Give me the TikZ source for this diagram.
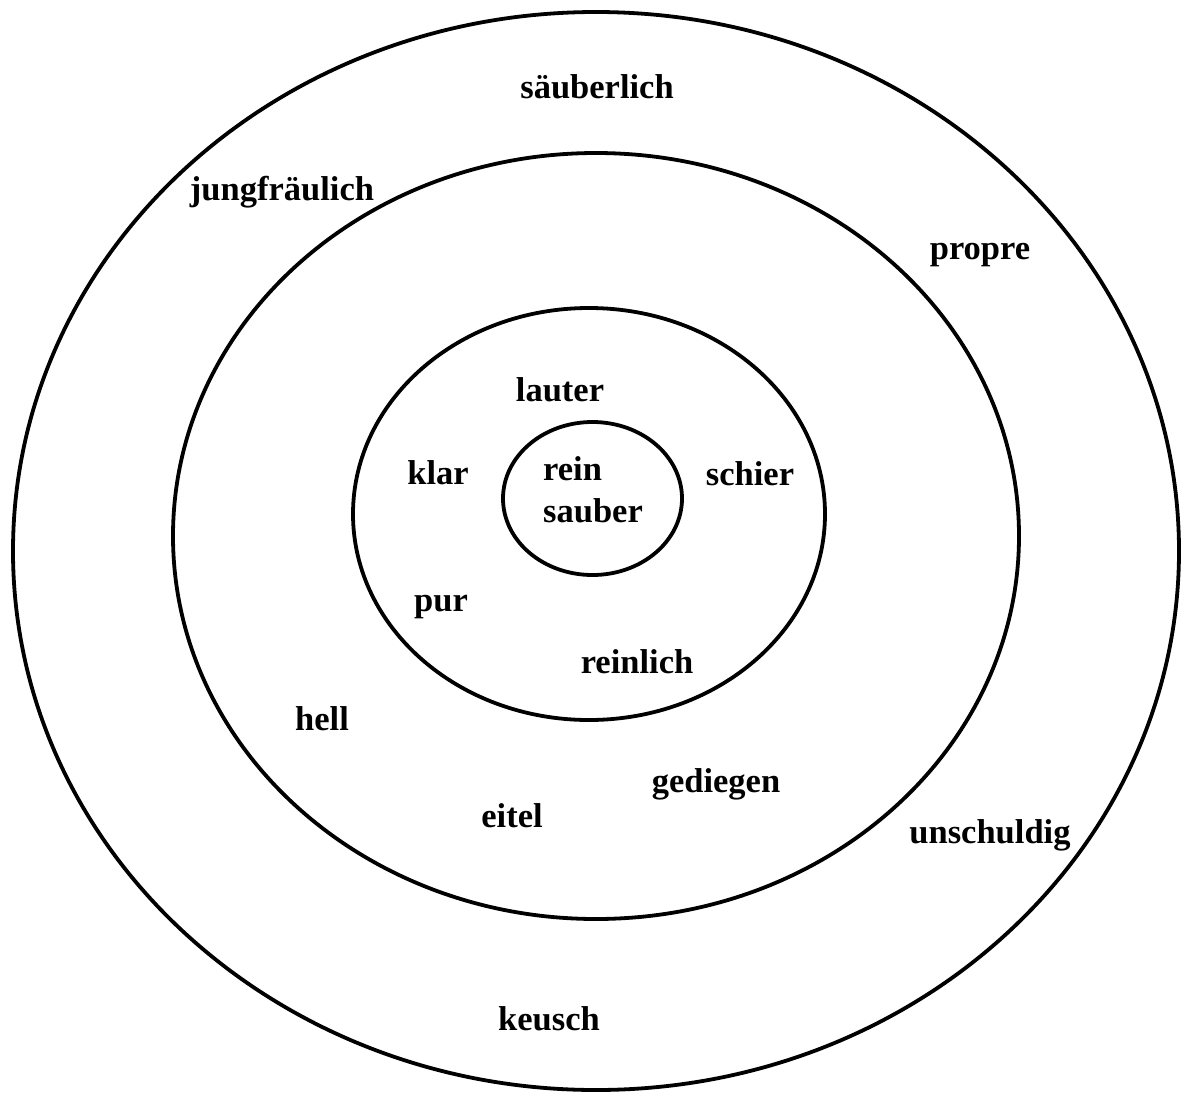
\documentclass[tikz,border=0pt]{standalone}
\usepackage{fontspec}
\setmainfont{Liberation Serif}
\begin{document}
\begin{tikzpicture}[x=1pt,y=-1pt,
  ring/.style={line width=3.8pt},
  word/.style={font=\fontsize{34.5}{42}\selectfont\bfseries, inner sep=0pt, anchor=base},
  stack/.style={font=\fontsize{34.5}{42}\selectfont\bfseries, inner sep=0pt, align=left}]
  % canvas
  \fill[white] (0,0) rectangle (1183,1095);
  \useasboundingbox (0,0) rectangle (1183,1095);

  % concentric rings
  \draw[ring] (596,551) ellipse [x radius=583, y radius=539];
  \draw[ring] (596,536) ellipse [x radius=423, y radius=383];
  \draw[ring] (589,514) ellipse [x radius=236, y radius=206];
  \draw[ring] (592.5,498.5) ellipse [x radius=89.5, y radius=76.5];

  % centre: two stacked words, both lines left aligned
  \node[word, anchor=base west] (rein) at (543,480) {rein};
  \node[word, anchor=base west] (sauber) at (543,522) {sauber};

  % inner ring
  \node[word] (lauter) at (560,401) {lauter};
  \node[word] (klar) at (438,484) {klar};
  \node[word] (schier) at (750,485) {schier};
  \node[word] (pur) at (441,611) {pur};
  \node[word] (reinlich) at (637,673) {reinlich};

  % middle ring
  \node[word] (jungfraeulich) at (282,200) {jungfräulich};
  \node[word] (hell) at (322,730) {hell};
  \node[word] (gediegen) at (716,792) {gediegen};
  \node[word] (eitel) at (512,827) {eitel};

  % outer ring
  \node[word] (saeuberlich) at (597,98) {säuberlich};
  \node[word] (propre) at (980,259) {propre};
  \node[word] (unschuldig) at (990,843) {unschuldig};
  \node[word] (keusch) at (549,1030) {keusch};
\end{tikzpicture}
\end{document}
